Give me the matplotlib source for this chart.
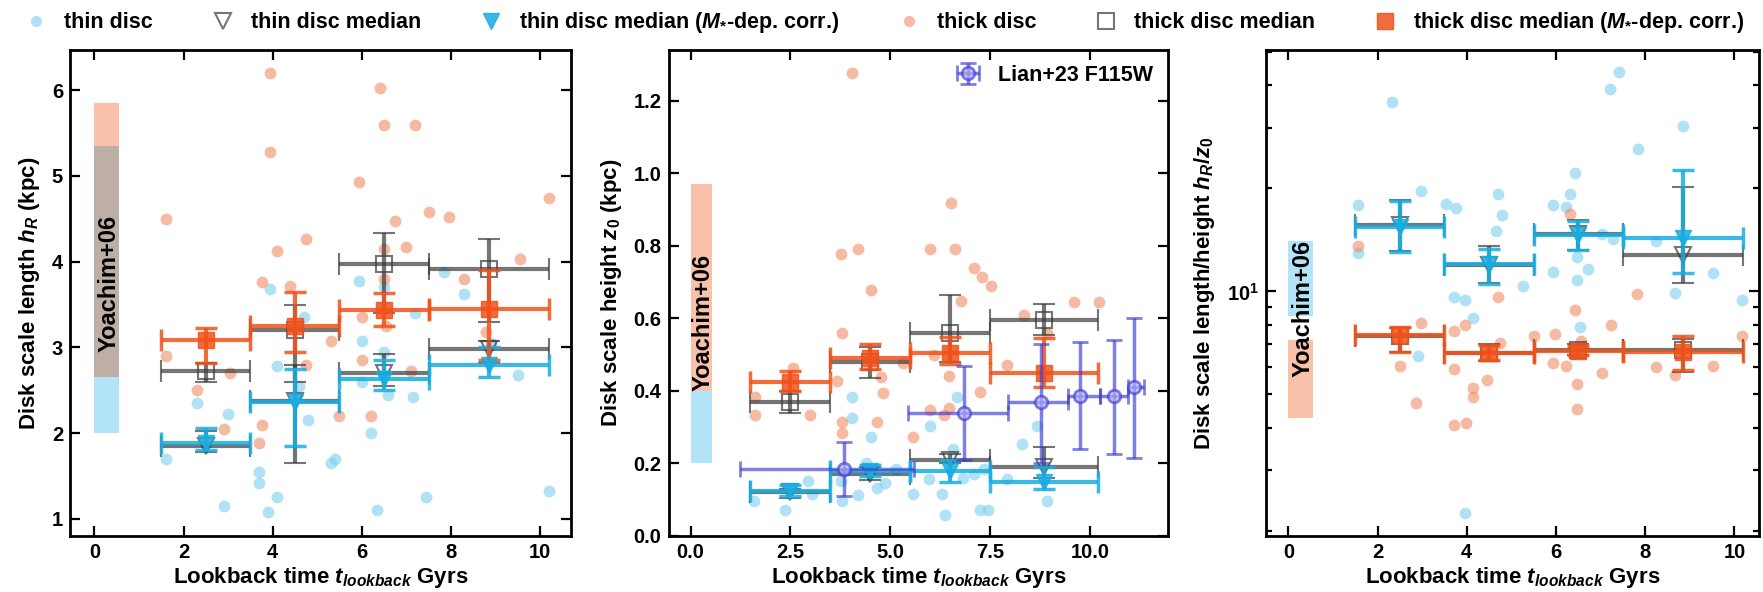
import numpy as np
import matplotlib
matplotlib.use('Agg')
import matplotlib.pyplot as plt
from matplotlib.lines import Line2D
from matplotlib.ticker import NullFormatter
import matplotlib.transforms as mtransforms

plt.rcParams['font.family'] = ['Liberation Sans', 'DejaVu Sans']
plt.rcParams['font.weight'] = 'bold'
plt.rcParams['axes.labelweight'] = 'bold'
plt.rcParams['mathtext.fontset'] = 'custom'
plt.rcParams['mathtext.rm'] = 'Liberation Sans:bold'
plt.rcParams['mathtext.it'] = 'Liberation Sans:italic:bold'
plt.rcParams['mathtext.bf'] = 'Liberation Sans:bold'
plt.rcParams['mathtext.default'] = 'it'

# ---------------- data ----------------
bin_x = [2.5, 4.5, 6.5, 8.85]
bin_lo = [1.5, 3.5, 5.5, 7.5]
bin_hi = [3.5, 5.5, 7.5, 10.2]

# Panel 1: scale length h_R (kpc)
thin1_t = [1.6, 2.3, 2.9, 3.0, 3.7, 3.7, 3.9, 4.1, 3.95, 4.1, 4.7, 4.8, 4.6, 5.3, 5.4, 5.95,
           6.0, 6.0, 6.2, 6.35, 6.5, 6.5, 6.6, 7.15, 7.2, 7.45, 7.85, 8.3, 9.5, 10.2, 8.9]
thin1_v = [1.7, 2.35, 1.15, 2.22, 1.55, 1.42, 1.08, 1.25, 3.68, 2.78, 3.35, 2.15, 2.55, 1.65, 1.7, 3.77,
           3.07, 2.6, 2.0, 1.1, 2.95, 3.7, 2.45, 2.42, 3.4, 1.26, 3.88, 3.62, 2.68, 1.32, 3.05]
thick1_t = [1.6, 1.6, 2.3, 2.9, 3.05, 3.75, 3.75, 3.7, 3.95, 3.95, 4.1, 4.4, 4.75, 4.75, 5.3, 5.5,
            5.95, 6.0, 6.0, 6.2, 6.4, 6.5, 6.5, 6.5, 6.55, 6.75, 7.0, 7.1, 7.2, 7.5, 7.95, 8.3, 8.8,
            9.55, 10.2]
thick1_v = [4.5, 2.9, 2.5, 2.05, 2.7, 3.76, 2.1, 1.88, 6.2, 5.28, 4.12, 3.72, 4.26, 2.8, 3.08, 2.2,
            4.93, 3.35, 2.85, 2.2, 6.03, 5.6, 4.15, 3.8, 3.25, 4.48, 4.17, 2.72, 5.6, 4.58, 4.52, 3.8,
            3.18, 4.03, 4.74]
thin_med1 = [1.85, 2.38, 2.70, 2.98]
thin_med1_lo = [1.78, 1.65, 2.55, 2.82]
thin_med1_hi = [2.03, 2.80, 2.92, 3.08]
thin_cor1 = [1.89, 2.36, 2.63, 2.80]
thin_cor1_lo = [1.80, 1.85, 2.50, 2.66]
thin_cor1_hi = [2.06, 2.75, 2.85, 3.00]
thick_med1 = [2.73, 3.20, 3.97, 3.92]
thick_med1_lo = [2.60, 2.60, 3.40, 3.30]
thick_med1_hi = [2.82, 3.50, 4.33, 4.27]
thick_cor1 = [3.09, 3.25, 3.44, 3.45]
thick_cor1_lo = [2.82, 2.95, 3.25, 2.85]
thick_cor1_hi = [3.23, 3.65, 3.63, 3.90]
yoachim1_thin = [2.0, 5.35]
yoachim1_thick = [2.65, 5.85]

# Panel 2: scale height z0 (kpc)
thin2_t = [1.6, 2.37, 2.93, 3.04, 3.76, 3.8, 4.04, 4.04, 4.19, 4.52, 4.67, 4.86, 5.14, 5.57, 5.96,
           6.0, 6.29, 6.38, 6.58, 6.67, 6.82, 7.1, 7.25, 7.44, 7.34, 7.92, 8.3, 8.68, 8.92, 4.4]
thin2_v = [0.097, 0.072, 0.151, 0.116, 0.151, 0.097, 0.324, 0.383, 0.112, 0.274, 0.131, 0.146,
           0.186, 0.116, 0.156, 0.304, 0.116, 0.057, 0.24, 0.383, 0.161, 0.171, 0.072, 0.072,
           0.186, 0.156, 0.255, 0.304, 0.097, 0.2]
thick2_t = [1.61, 1.62, 2.56, 2.99, 3.66, 3.8, 3.8, 3.78, 4.04, 3.76, 4.19, 4.52, 4.76, 4.81, 4.67,
            5.33, 5.57, 6.0, 6.0, 6.34, 6.53, 6.63, 6.48, 6.48, 6.77, 7.1, 7.29, 7.53, 7.25, 7.92,
            8.35, 8.92, 9.59, 10.23, 6.1]
thick2_v = [0.383, 0.334, 0.462, 0.334, 0.427, 0.56, 0.314, 0.284, 1.276, 0.778, 0.792, 0.679,
            0.437, 0.393, 0.314, 0.477, 0.274, 0.792, 0.348, 0.334, 0.918, 0.792, 0.442, 0.353,
            0.649, 0.738, 0.713, 0.689, 0.398, 0.472, 0.61, 0.559, 0.644, 0.644, 0.5]
thin_med2 = [0.12, 0.17, 0.21, 0.19]
thin_med2_lo = [0.105, 0.155, 0.20, 0.16]
thin_med2_hi = [0.13, 0.19, 0.225, 0.245]
thin_cor2 = [0.125, 0.18, 0.18, 0.15]
thin_cor2_lo = [0.11, 0.165, 0.15, 0.13]
thin_cor2_hi = [0.14, 0.195, 0.21, 0.19]
thick_med2 = [0.37, 0.48, 0.56, 0.595]
thick_med2_lo = [0.34, 0.435, 0.48, 0.555]
thick_med2_hi = [0.40, 0.52, 0.665, 0.64]
thick_cor2 = [0.425, 0.49, 0.505, 0.45]
thick_cor2_lo = [0.40, 0.46, 0.475, 0.41]
thick_cor2_hi = [0.455, 0.53, 0.55, 0.545]
yoachim2_thin = [0.2, 0.40]
yoachim2_thick = [0.40, 0.97]
lian_t = [3.85, 6.85, 8.78, 9.75, 10.6, 11.1]
lian_t_lo = [1.25, 5.45, 7.95, 9.45, 10.25, 10.95]
lian_t_hi = [5.6, 7.95, 9.45, 10.25, 10.95, 11.35]
lian_v = [0.185, 0.34, 0.37, 0.385, 0.385, 0.41]
lian_v_lo = [0.11, 0.21, 0.20, 0.24, 0.225, 0.215]
lian_v_hi = [0.26, 0.47, 0.53, 0.535, 0.54, 0.60]

# Panel 3: h_R / z0
thin3_t = [2.32, 7.42, 7.22, 8.85, 7.84, 6.42, 2.97, 1.56, 3.54, 3.77, 4.69, 4.79, 4.66, 5.94, 6.23,
           6.32, 7.03, 7.28, 8.24, 1.56, 6.47, 6.72, 5.94, 6.47, 5.27, 3.71, 3.97, 4.14, 9.51, 8.66,
           10.17, 2.90, 3.96, 6.53]
thin3_v = [35.7, 43.8, 39.0, 30.5, 26.1, 22.1, 19.6, 17.9, 18.0, 17.5, 19.2, 16.7, 15.0, 17.9, 17.6,
           19.2, 14.7, 14.2, 14.0, 12.9, 12.6, 11.6, 11.4, 10.8, 10.4, 9.65, 9.46, 8.36, 11.3, 9.88,
           9.42, 6.49, 2.26, 7.87]
thick3_t = [1.56, 2.97, 2.51, 2.86, 3.72, 3.96, 3.72, 4.14, 4.14, 3.72, 3.99, 4.46, 4.71, 4.74, 5.5,
            5.97, 5.94, 6.23, 6.42, 6.47, 6.47, 6.32, 6.56, 7.03, 7.24, 7.82, 8.24, 8.66, 9.51,
            10.17]
thick3_v = [13.6, 8.06, 6.04, 4.72, 7.68, 8.0, 5.94, 5.23, 4.93, 4.07, 4.12, 5.5, 9.65, 7.06, 7.41,
            7.5, 6.19, 6.04, 8.81, 5.36, 4.53, 16.8, 7.15, 5.76, 7.96, 9.84, 6.0, 5.69, 6.04, 7.41]
thin_med3 = [15.6, 11.9, 14.7, 12.8]
thin_med3_lo = [13.1, 10.6, 13.2, 10.6]
thin_med3_hi = [18.5, 13.6, 16.2, 20.2]
thin_cor3 = [15.4, 12.0, 14.6, 14.3]
thin_cor3_lo = [13.0, 10.5, 13.2, 11.3]
thin_cor3_hi = [18.4, 13.3, 16.1, 22.6]
thick_med3 = [7.41, 6.6, 6.73, 6.73]
thick_med3_lo = [6.64, 6.27, 6.5, 5.83]
thick_med3_hi = [7.8, 7.0, 7.0, 7.27]
thick_cor3 = [7.45, 6.6, 6.7, 6.65]
thick_cor3_lo = [6.64, 6.3, 6.5, 5.9]
thick_cor3_hi = [7.87, 6.95, 6.92, 7.4]
yoachim3_thin = [8.45, 14.0]
yoachim3_thick = [4.27, 7.23]

# ---------------- style ----------------
C_THIN_PT = '#7dcdef'
C_THICK_PT = '#f08c64'
C_BLUE = '#19ade2'
C_ORANGE = '#f0521a'
C_GRAY = '#3a3a3a'
C_LIAN = '#3a3ad6'
C_Y_THIN = '#b3e3f7'
C_Y_THICK = '#f9c0aa'
C_Y_OVER = '#bdaea6'
FS_LAB = 16
FS_TICK = 14.5
FS_LEG = 15.5
FS_YOA = 17

fig = plt.figure(figsize=(17.63, 5.92), dpi=100)
ax1 = fig.add_axes([0.0397, 0.0946, 0.2842, 0.821])
ax2 = fig.add_axes([0.3792, 0.0946, 0.2833, 0.821])
ax3 = fig.add_axes([0.7181, 0.0946, 0.2796, 0.821])


def asym(v, lo, hi):
    v = np.asarray(v)
    return [v - np.asarray(lo), np.asarray(hi) - v]


def draw_panel(ax, thin_t, thin_v, thick_t, thick_v,
               tmed, tmed_lo, tmed_hi, tcor, tcor_lo, tcor_hi,
               kmed, kmed_lo, kmed_hi, kcor, kcor_lo, kcor_hi,
               y_thin, y_thick, ytext):
    ax.plot(thin_t, thin_v, 'o', color=C_THIN_PT, alpha=0.6, ms=8.5, mec='none', zorder=1)
    ax.plot(thick_t, thick_v, 'o', color=C_THICK_PT, alpha=0.6, ms=8.5, mec='none', zorder=1)
    # Yoachim+06 ranges
    ax.bar(0, y_thin[1] - y_thin[0], bottom=y_thin[0], width=0.55, align='edge',
           color=C_Y_THIN, zorder=0.5)
    ax.bar(0, y_thick[1] - y_thick[0], bottom=y_thick[0], width=0.55, align='edge',
           color=C_Y_THICK, zorder=0.5)
    olo, ohi = max(y_thin[0], y_thick[0]), min(y_thin[1], y_thick[1])
    if ohi > olo:
        ax.bar(0, ohi - olo, bottom=olo, width=0.55, align='edge', color=C_Y_OVER, zorder=0.6)
    trans = mtransforms.blended_transform_factory(ax.transData, ax.transAxes)
    ax.text(0.32, ytext, 'Yoachim+06', rotation=90, ha='center', va='center',
            fontsize=FS_YOA, fontweight='bold', transform=trans, zorder=5)
    xerr = asym(bin_x, bin_lo, bin_hi)
    ekw = dict(capsize=8, capthick=2.5, elinewidth=3, ls='none')
    ax.errorbar(bin_x, tmed, xerr=xerr, yerr=asym(tmed, tmed_lo, tmed_hi), fmt='v',
                color=C_GRAY, mfc='none', mec=C_GRAY, ms=11, mew=1.5, alpha=0.7, zorder=3, **ekw)
    ax.errorbar(bin_x, tcor, xerr=xerr, yerr=asym(tcor, tcor_lo, tcor_hi), fmt='v',
                color=C_BLUE, ms=12, alpha=0.85, zorder=4, **ekw)
    ax.errorbar(bin_x, kmed, xerr=xerr, yerr=asym(kmed, kmed_lo, kmed_hi), fmt='s',
                color=C_GRAY, mfc='none', mec=C_GRAY, ms=11, mew=1.5, alpha=0.7, zorder=3, **ekw)
    ax.errorbar(bin_x, kcor, xerr=xerr, yerr=asym(kcor, kcor_lo, kcor_hi), fmt='s',
                color=C_ORANGE, ms=11, alpha=0.85, zorder=4, **ekw)
    ax.set_xlabel(r'Lookback time $t_{lookback}$ Gyrs', fontsize=FS_LAB, labelpad=2)
    ax.tick_params(which='both', direction='in', top=True, right=True, labelsize=FS_TICK,
                   width=1.6, pad=5)
    ax.tick_params(which='major', length=7)
    ax.tick_params(which='minor', length=4)
    for s in ax.spines.values():
        s.set_linewidth(2)


draw_panel(ax1, thin1_t, thin1_v, thick1_t, thick1_v,
           thin_med1, thin_med1_lo, thin_med1_hi, thin_cor1, thin_cor1_lo, thin_cor1_hi,
           thick_med1, thick_med1_lo, thick_med1_hi, thick_cor1, thick_cor1_lo, thick_cor1_hi,
           yoachim1_thin, yoachim1_thick, 0.52)
ax1.set_xlim(-0.55, 10.7)
ax1.set_ylim(0.8, 6.47)
ax1.set_xticks([0, 2, 4, 6, 8, 10])
ax1.set_yticks([1, 2, 3, 4, 5, 6])
ax1.set_ylabel(r'Disk scale length $h_R$ (kpc)', fontsize=FS_LAB, labelpad=7)

draw_panel(ax2, thin2_t, thin2_v, thick2_t, thick2_v,
           thin_med2, thin_med2_lo, thin_med2_hi, thin_cor2, thin_cor2_lo, thin_cor2_hi,
           thick_med2, thick_med2_lo, thick_med2_hi, thick_cor2, thick_cor2_lo, thick_cor2_hi,
           yoachim2_thin, yoachim2_thick, 0.44)
lian = ax2.errorbar(lian_t, lian_v, xerr=asym(lian_t, lian_t_lo, lian_t_hi),
                    yerr=asym(lian_v, lian_v_lo, lian_v_hi), fmt='o', color=C_LIAN,
                    mfc='#b9b2f5', mec=C_LIAN, ms=9, mew=2, alpha=0.65, capsize=6,
                    capthick=2, elinewidth=2.5, zorder=5, label='Lian+23 F115W')
ax2.legend(handles=[lian], loc='upper right', frameon=False, fontsize=FS_LEG,
           handletextpad=0.4, borderaxespad=0.3)
ax2.set_xlim(-0.55, 11.95)
ax2.set_ylim(0, 1.34)
ax2.set_xticks([0, 2.5, 5, 7.5, 10])
ax2.set_xticklabels(['0.0', '2.5', '5.0', '7.5', '10.0'])
ax2.set_yticks([0, 0.2, 0.4, 0.6, 0.8, 1.0, 1.2])
ax2.set_ylabel(r'Disk scale height $z_0$ (kpc)', fontsize=FS_LAB, labelpad=7)

ax3.set_yscale('log')
draw_panel(ax3, thin3_t, thin3_v, thick3_t, thick3_v,
           thin_med3, thin_med3_lo, thin_med3_hi, thin_cor3, thin_cor3_lo, thin_cor3_hi,
           thick_med3, thick_med3_lo, thick_med3_hi, thick_cor3, thick_cor3_lo, thick_cor3_hi,
           yoachim3_thin, yoachim3_thick, 0.468)
ax3.set_xlim(-0.5, 10.55)
ax3.set_ylim(1.93, 50.7)
ax3.set_xticks([0, 2, 4, 6, 8, 10])
ax3.yaxis.set_minor_formatter(NullFormatter())
ax3.set_ylabel(r'Disk scale length/height $h_R/z_0$', fontsize=FS_LAB, labelpad=7)

# Figure legend
handles = [
    Line2D([], [], marker='o', ls='', color=C_THIN_PT, alpha=0.6, ms=8, mec='none'),
    Line2D([], [], marker='v', ls='', mfc='none', mec=C_GRAY, alpha=0.7, ms=11, mew=1.5),
    Line2D([], [], marker='v', ls='', color=C_BLUE, alpha=0.85, ms=12),
    Line2D([], [], marker='o', ls='', color=C_THICK_PT, alpha=0.6, ms=8, mec='none'),
    Line2D([], [], marker='s', ls='', mfc='none', mec=C_GRAY, alpha=0.7, ms=11, mew=1.5),
    Line2D([], [], marker='s', ls='', color=C_ORANGE, alpha=0.85, ms=11),
]
labels = ['thin disc', 'thin disc median', r'thin disc median ($M_{*}$-dep. corr.)',
          'thick disc', 'thick disc median', r'thick disc median ($M_{*}$-dep. corr.)']
fig.legend(handles, labels, loc='upper center', ncol=6, frameon=False, fontsize=FS_LEG,
           bbox_to_anchor=(0.5, 1.015), columnspacing=2.45, handletextpad=0.5,
           handlelength=1.6)

fig.savefig('out.png', dpi=100)
